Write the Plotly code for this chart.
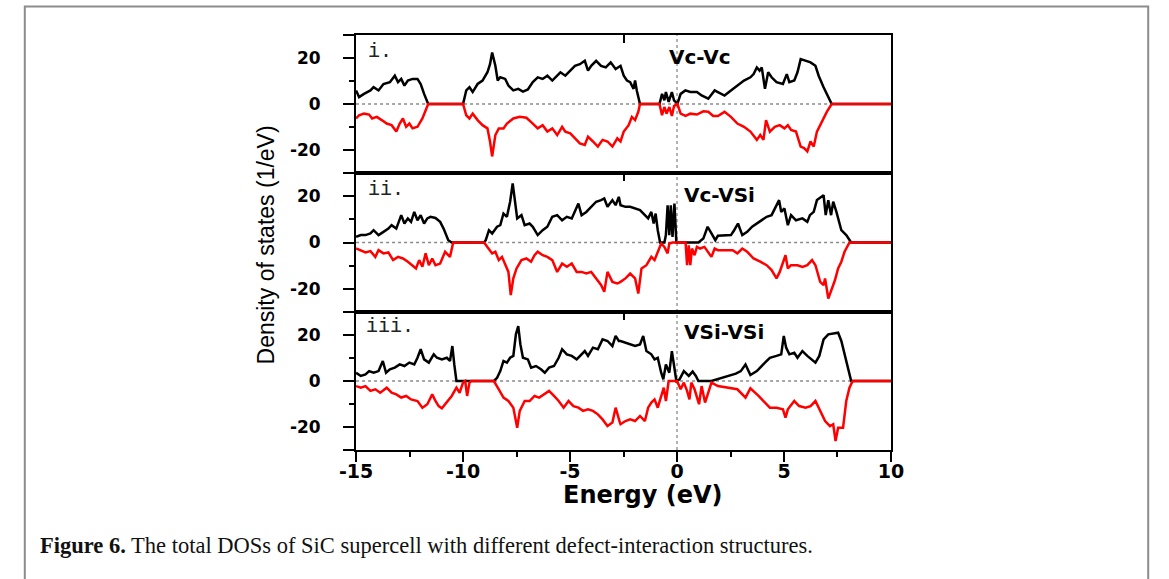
import plotly.graph_objects as go

W, H = 1169, 579

# ---------------- data (energy in eV, DOS in 1/eV) ----------------
# Panel i: Vc-Vc
e_vcvc_up = [-15.0, -14.86, -14.63, -14.33, -14.18, -13.95, -13.72, -13.42, -13.19, -13.04,
             -12.89, -12.74, -12.58, -12.36, -12.13, -11.98, -11.82, -11.63, -10.0, -9.85,
             -9.70, -9.55, -9.32, -9.09, -8.86, -8.74, -8.64, -8.49, -8.38, -8.26,
             -8.03, -7.88, -7.65, -7.42, -7.20, -6.97, -6.74, -6.51, -6.28, -6.06,
             -5.83, -5.60, -5.45, -5.22, -4.99, -4.77, -4.54, -4.31, -4.16, -4.01,
             -3.78, -3.55, -3.33, -3.10, -2.87,
             -2.64, -2.49, -2.34, -2.19, -2.03, -1.96, -1.88, -1.73, -0.82, -0.70,
             -0.59, -0.52, -0.39, -0.24, -0.14, 0.02, 0.17, 0.39, 0.62, 0.93,
             1.15, 1.46, 1.76, 1.91, 2.22, 2.52, 2.82, 3.13, 3.43, 3.58,
             3.73, 3.86, 3.96, 4.11, 4.26, 4.42, 4.65, 4.95, 5.13, 5.25,
             5.48, 5.63, 5.78, 6.01, 6.24, 6.47, 6.62, 6.85, 7.07, 7.23, 10.0]
d_vcvc_up = [5.9, 3.0, 4.4, 5.9, 7.3, 5.9, 8.7, 9.5, 12.3, 9.5,
             10.9, 8.0, 10.2, 10.9, 10.9, 8.7, 4.4, 0, 0, 5.9,
             7.3, 5.2, 8.7, 10.2, 13.8, 17.3, 22.4, 16.6, 10.2, 11.6,
             10.9, 8.0, 5.9, 6.6, 5.4, 6.3, 9.5, 11.6, 10.9, 12.3,
             10.2, 12.3, 13.8, 12.3, 14.5, 16.6, 17.3, 18.8, 14.5, 16.6,
             18.8, 16.6, 15.9, 18.1, 15.2,
             16.6, 12.3, 10.2, 9.5, 6.6, 10.2, 5.9, 0, 0, 4.4,
             1.6, 5.2, 0.9, 5.2, 1.6, 0.1, 4.4, 5.9, 5.2, 5.2,
             3.7, 2.3, 5.9, 5.2, 3.7, 5.9, 8.0, 10.2, 11.6, 13.0,
             15.9, 14.5, 15.9, 6.6, 13.8, 11.6, 9.5, 8.7, 13.0, 9.5,
             10.2, 13.8, 19.5, 18.8, 18.1, 16.6, 12.3, 7.3, 3.0, 0, 0]

e_vcvc_dn = [-15.0, -14.86, -14.63, -14.39, -14.25, -14.03, -13.80, -13.57, -13.34, -13.12,
             -12.96, -12.81, -12.66, -12.51, -12.36, -12.13, -11.90, -11.63, -10.0, -9.85,
             -9.70, -9.55, -9.32, -9.09, -8.86, -8.74, -8.64, -8.49, -8.33, -8.11,
             -7.95, -7.65, -7.35, -7.04, -6.74, -6.51, -6.28, -6.06, -5.83, -5.60,
             -5.37, -5.22, -4.99, -4.77, -4.54, -4.31, -4.16, -3.93, -3.70, -3.48,
             -3.25, -3.02, -2.79,
             -2.64, -2.49, -2.26, -2.11, -1.96, -1.81, -1.73, -0.82, -0.70, -0.59,
             -0.49, -0.36, -0.24, -0.14, 0.02, 0.17, 0.40, 0.62, 0.93, 1.23,
             1.46, 1.69, 1.91, 2.22, 2.52, 2.82, 3.13, 3.43, 3.73, 3.89,
             4.04, 4.16, 4.34, 4.57, 4.80, 5.02, 5.18, 5.33, 5.56, 5.78,
             5.94, 6.09, 6.24, 6.39, 6.54, 6.77, 7.00, 7.23, 10.0]
d_vcvc_dn = [-6.3, -4.9, -4.2, -4.6, -6.3, -5.6, -7.0, -8.5, -9.2, -12.0,
             -8.5, -6.3, -9.9, -8.5, -10.6, -9.9, -6.3, 0, 0, -4.9,
             -6.3, -4.2, -7.0, -9.2, -10.6, -16.3, -22.8, -13.5, -10.6, -10.6,
             -8.5, -6.3, -5.6, -6.0, -8.5, -10.6, -9.2, -12.0, -10.6, -13.5,
             -9.9, -12.0, -12.8, -14.9, -17.1, -17.8, -14.2, -16.3, -18.5, -15.6,
             -16.3, -18.5, -14.9,
             -16.3, -12.0, -9.2, -5.6, -7.0, -3.4, 0, 0, -4.9, -1.3,
             -4.2, -1.3, -5.2, -0.9, 0, -4.2, -5.2, -4.2, -4.6, -3.2,
             -3.4, -5.2, -5.2, -3.4, -5.6, -8.5, -9.9, -12.0, -15.6, -13.5,
             -15.6, -7.0, -12.0, -9.9, -9.2, -10.6, -9.2, -11.3, -12.0, -18.5,
             -19.2, -20.6, -16.3, -18.5, -12.0, -7.7, -3.4, 0, 0]

# Panel ii: Vc-VSi
e_vcvsi_up = [-15.0, -14.78, -14.56, -14.33, -14.18, -13.95, -13.72, -13.49, -13.34, -13.12,
              -12.89, -12.74, -12.58, -12.43, -12.28, -12.13, -11.98, -11.82, -11.67, -11.52,
              -11.29, -11.07, -10.91, -10.69, -10.53, -9.02, -8.94, -8.79, -8.64, -8.41,
              -8.26, -8.11, -7.95, -7.80, -7.68, -7.57, -7.47, -7.27, -7.12, -6.89,
              -6.74, -6.51, -6.28, -6.06, -5.83, -5.60, -5.37, -5.15, -4.92, -4.61,
              -4.46, -4.24, -4.01, -3.78, -3.55, -3.40, -3.25, -3.02, -2.87, -2.72,
              -2.64, -2.41, -2.19, -1.96, -1.73, -1.50, -1.35, -1.20, -1.09, -1.00,
              -0.90, -0.79, -0.59, -0.52, -0.44, -0.36, -0.29, -0.21, -0.12, -0.03,
              1.00, 1.23, 1.43, 1.61, 1.79, 1.91, 2.22, 2.52, 2.67, 2.85,
              3.05, 3.28, 3.51, 3.73, 3.96, 4.19, 4.42, 4.57, 4.77, 4.87,
              5.02, 5.18, 5.33, 5.56, 5.86, 6.09, 6.21, 6.39, 6.54, 6.85,
              6.95, 7.07, 7.20, 7.30, 7.45, 7.68, 7.91, 8.14, 10.0]
d_vcvsi_up = [2.4, 3.2, 3.2, 3.9, 5.3, 3.2, 4.6, 6.0, 7.5, 6.0,
              11.8, 8.2, 10.4, 8.9, 13.2, 9.6, 11.8, 8.2, 10.4, 11.1,
              10.6, 8.9, 6.0, 1.0, 0, 0, 1.0, 5.3, 3.9, 6.8,
              7.5, 12.5, 11.1, 17.6, 25.5, 17.6, 10.4, 11.8, 7.5, 8.2,
              6.8, 3.2, 5.3, 6.8, 11.1, 11.8, 9.6, 11.1, 10.4, 16.8,
              11.8, 13.2, 15.4, 17.6, 18.3, 19.0, 15.4, 18.3, 16.1, 19.7,
              16.1, 15.4, 15.4, 14.7, 14.0, 11.8, 10.4, 13.2, 8.2, 12.5,
              5.3, 0, 0, 3.2, 16.1, 3.2, 16.1, 2.4, 16.8, 0,
              0, 1.7, 6.8, 3.9, 1.0, 2.9, 2.9, 3.2, 5.3, 8.2,
              3.2, 4.6, 6.8, 8.2, 9.6, 11.1, 11.8, 14.7, 18.3, 13.2,
              14.7, 7.5, 11.8, 9.6, 10.4, 8.9, 11.8, 13.2, 18.3, 20.4,
              11.8, 18.3, 11.8, 17.6, 13.2, 5.3, 3.2, 0, 0]

e_vcvsi_dn = [-15.0, -14.78, -14.56, -14.33, -14.10, -13.95, -13.72, -13.49, -13.27, -13.04,
              -12.81, -12.58, -12.36, -12.20, -12.05, -11.90, -11.75, -11.60, -11.44, -11.29,
              -11.07, -10.84, -10.61, -10.46, -9.02, -8.86, -8.64, -8.49, -8.33, -8.18,
              -8.03, -7.88, -7.77, -7.65, -7.50, -7.27, -7.04, -6.82, -6.66, -6.51,
              -6.28, -6.06, -5.83, -5.60, -5.37, -5.15, -4.92, -4.69, -4.46, -4.24,
              -4.01, -3.78, -3.55, -3.40, -3.25, -3.02, -2.79,
              -2.64, -2.41, -2.19, -1.96, -1.81, -1.66, -1.43, -1.20, -1.05, -0.90,
              -0.74, -0.59, -0.44, -0.36, -0.21, 0.40, 0.47, 0.55, 0.62, 0.70,
              0.82, 0.93, 1.08, 1.28, 1.46, 1.61, 1.76, 1.91, 2.22, 2.60,
              2.82, 3.05, 3.28, 3.58, 3.89, 4.19, 4.42, 4.65, 4.80, 4.95,
              5.07, 5.18, 5.33, 5.63, 5.86, 6.09, 6.31, 6.47, 6.69, 6.85,
              6.92, 7.07, 7.23, 7.38, 7.53, 7.68, 7.83, 8.06, 10.0]
d_vcvsi_dn = [-2.6, -3.3, -4.3, -3.7, -6.2, -3.3, -4.7, -4.3, -7.6, -6.2,
              -6.9, -8.3, -9.8, -11.2, -7.6, -10.5, -4.7, -9.8, -6.9, -9.8,
              -9.1, -4.0, -6.2, 0, 0, -1.9, -4.7, -4.0, -7.6, -6.2,
              -9.8, -12.7, -22.7, -15.5, -11.2, -7.6, -6.9, -8.3, -5.5, -4.0,
              -5.5, -6.2, -7.6, -12.7, -9.1, -10.5, -9.1, -12.7, -12.7, -13.4,
              -12.7, -15.5, -18.3, -21.3, -12.7, -17.0, -17.7,
              -17.0, -15.5, -13.4, -15.5, -22.0, -11.2, -9.8, -6.2, -7.6, -4.0,
              -0.4, -1.9, -4.7, -0.4, 0, 0, -9.8, -1.2, -9.8, -2.6,
              -5.5, -1.9, -2.6, -1.9, -4.0, -6.2, -2.6, -3.3, -3.3, -3.3,
              -4.7, -2.6, -4.0, -6.9, -8.3, -9.8, -11.9, -15.5, -12.7, -8.3,
              -5.5, -11.2, -9.8, -9.8, -10.5, -9.8, -7.6, -9.8, -17.0, -18.4,
              -15.5, -24.2, -19.9, -16.3, -11.2, -8.3, -4.0, 0, 0]

# Panel iii: VSi-VSi
e_vsivsi_up = [-15.0, -14.78, -14.56, -14.39, -14.18, -13.95, -13.75, -13.60, -13.42, -13.19,
               -12.96, -12.74, -12.51, -12.28, -12.13, -11.98, -11.82, -11.60, -11.37, -11.22,
               -10.99, -10.76, -10.61, -10.50, -10.41, -10.31, -8.56, -8.41, -8.26, -8.11,
               -7.95, -7.80, -7.65, -7.53, -7.42, -7.32, -7.20, -6.97, -6.82, -6.59,
               -6.36, -6.18, -5.98, -5.75, -5.53, -5.37, -5.15, -4.92, -4.69, -4.54,
               -4.31, -4.16, -3.93, -3.70, -3.48, -3.25, -3.02, -2.87, -2.72,
               -2.64, -2.41, -2.19, -1.96, -1.73, -1.58, -1.43, -1.20, -1.05, -0.90,
               -0.74, -0.64, -0.52, -0.36, -0.24, -0.14, -0.03, 0.12, 0.32, 0.55,
               0.73, 0.88, 1.00, 1.61, 2.22, 2.75, 2.98, 3.20, 3.43, 3.73,
               4.11, 4.34, 4.65, 4.87, 4.99, 5.10, 5.25, 5.48, 5.63, 5.86,
               6.09, 6.31, 6.47, 6.65, 6.85, 7.07, 7.30, 7.53, 7.68, 7.83,
               7.98, 8.14, 10.0]
d_vsivsi_up = [3.6, 2.2, 2.9, 4.3, 3.6, 4.3, 8.7, 3.6, 5.1, 5.8,
               7.2, 6.5, 8.0, 7.2, 10.1, 13.8, 9.4, 8.0, 11.6, 10.1,
               9.4, 10.1, 8.7, 15.2, 7.2, 0, 0, 1.4, 4.3, 8.7,
               8.0, 10.1, 10.9, 20.3, 23.9, 15.9, 10.1, 9.4, 5.8, 6.5,
               5.1, 3.6, 5.8, 6.5, 10.1, 13.8, 11.6, 10.9, 9.4, 10.9,
               13.0, 10.9, 14.5, 13.8, 18.1, 17.4, 15.2, 19.6, 17.4,
               17.4, 16.7, 15.9, 15.2, 15.9, 19.6, 13.0, 11.6, 9.4, 10.1,
               3.6, 0.7, 7.2, 3.6, 13.0, 5.8, 0, 0.7, 4.3, 2.2,
               4.1, 2.2, 0, 0, 1.7, 3.2, 4.3, 7.2, 2.6, 4.3,
               8.0, 10.1, 10.9, 11.6, 19.6, 14.5, 11.6, 12.3, 10.1, 13.0,
               10.9, 9.4, 8.0, 10.9, 18.1, 20.3, 20.6, 21.0, 17.4, 11.6,
               5.8, 0, 0]

e_vsivsi_dn = [-15.0, -14.78, -14.56, -14.33, -14.10, -13.87, -13.57, -13.34, -13.12, -12.89,
               -12.66, -12.43, -12.13, -11.90, -11.67, -11.44, -11.29, -11.14, -10.99, -10.76,
               -10.53, -10.31, -10.16, -10.00, -9.90, -9.81, -9.70, -9.62, -8.56, -8.33,
               -8.11, -7.88, -7.65, -7.53, -7.47, -7.35, -7.12, -6.89, -6.66, -6.44,
               -6.21, -5.98, -5.75, -5.53, -5.30, -5.07, -4.84, -4.61, -4.39, -4.16,
               -3.93, -3.70, -3.48, -3.25, -3.02, -2.87, -2.67,
               -2.64, -2.41, -2.19, -1.96, -1.73, -1.50, -1.35, -1.20, -1.05, -0.90,
               -0.74, -0.62, -0.52, -0.39, 0.0, 0.17, 0.32, 0.47, 0.58, 0.67,
               0.82, 1.03, 1.15, 1.31, 1.46, 1.61, 1.91, 2.37, 2.82, 3.20,
               3.43, 3.81, 4.34, 4.65, 4.95, 5.07, 5.18, 5.48, 5.71, 6.01,
               6.24, 6.47, 6.69, 6.92, 7.15, 7.30, 7.41, 7.53, 7.76, 7.91,
               8.06, 8.21, 10.0]
d_vsivsi_dn = [-2.2, -2.9, -2.2, -4.3, -3.6, -5.1, -2.9, -5.1, -5.8, -7.2,
               -6.5, -8.0, -8.7, -11.6, -10.1, -5.8, -8.7, -10.9, -11.9, -9.4,
               -6.5, -2.9, -5.1, -0.7, 0, -6.5, -0.7, 0, 0, -3.6,
               -7.2, -8.7, -11.6, -17.4, -20.3, -13.0, -8.7, -8.7, -6.5, -7.2,
               -5.8, -4.3, -6.5, -8.7, -11.6, -8.7, -10.9, -11.6, -13.0, -12.3,
               -13.0, -14.5, -16.7, -19.6, -18.1, -11.6, -18.1,
               -18.8, -17.4, -16.7, -17.4, -15.2, -17.4, -11.6, -9.4, -8.0, -11.6,
               -7.2, -2.9, -8.7, 0, 0, -3.6, -0.7, -4.3, -8.0, -0.7,
               -3.6, -10.1, -2.2, -9.4, -5.1, -0.7, -2.2, -2.9, -3.6, -7.2,
               -3.2, -6.5, -11.6, -11.6, -12.3, -15.9, -12.3, -8.7, -10.9, -11.6,
               -10.9, -8.7, -13.0, -17.4, -19.6, -18.8, -26.1, -20.3, -20.3, -8.7,
               -2.9, 0, 0]

panel_titles = ["Vc-Vc", "Vc-VSi", "VSi-VSi"]
panel_tags = ["i.", "ii.", "iii."]
x_ticks = [-15, -10, -5, 0, 5, 10]
y_ticks = [-30, -20, 0, 20, 30]
y_ticktext = ["", "-20", "0", "20", ""]

series = [
    (e_vcvc_up, d_vcvc_up, e_vcvc_dn, d_vcvc_dn),
    (e_vcvsi_up, d_vcvsi_up, e_vcvsi_dn, d_vcvsi_dn),
    (e_vsivsi_up, d_vsivsi_up, e_vsivsi_dn, d_vsivsi_dn),
]
for s in series:
    assert len(s[0]) == len(s[1]), (len(s[0]), len(s[1]))
    assert len(s[2]) == len(s[3]), (len(s[2]), len(s[3]))

# ---------------- layout geometry (pixels -> paper) ----------------
def px(x):
    return x / W

def py(y):
    return 1 - y / H

X0, X1 = 348, 897
tops = [35, 173, 312]
bots = [173, 312, 450]

fig = go.Figure()
# curves live on overlay axes (x4/y4, x5/y5, x6/y6), which also carry the inner frame ticks
for i, (eu, du, ed, dd) in enumerate(series):
    xa = f"x{i+4}"
    ya = f"y{i+4}"
    fig.add_trace(go.Scatter(x=eu, y=du, mode="lines", xaxis=xa, yaxis=ya,
                             line=dict(color="black", width=2.5), hoverinfo="skip",
                             showlegend=False))
    fig.add_trace(go.Scatter(x=ed, y=dd, mode="lines", xaxis=xa, yaxis=ya,
                             line=dict(color="#ff0000", width=2.5), hoverinfo="skip",
                             showlegend=False))

tickfont = dict(family="DejaVu Sans", size=17, color="black", weight="bold")
layout = dict(
    width=W, height=H,
    margin=dict(l=0, r=0, t=0, b=0),
    paper_bgcolor="white", plot_bgcolor="white",
    showlegend=False,
)
for i in range(3):
    xkey = "xaxis" if i == 0 else f"xaxis{i+1}"
    ykey = "yaxis" if i == 0 else f"yaxis{i+1}"
    xa = "x" if i == 0 else f"x{i+1}"
    ya = "y" if i == 0 else f"y{i+1}"
    last = (i == 2)
    xax = dict(domain=[px(X0), px(X1)], anchor=ya, range=[-15, 10],
               showline=True, linecolor="black", linewidth=2, mirror=True,
               showgrid=False, zeroline=False, fixedrange=True)
    if last:
        xax.update(tickmode="array", tickvals=x_ticks, ticktext=[str(v) for v in x_ticks],
                   ticks="outside", ticklen=10, tickwidth=2, tickcolor="black",
                   ticklabelstandoff=-7,
                   tickfont=dict(family="DejaVu Sans", size=19, color="black", weight="bold"),
                   minor=dict(dtick=2.5, tick0=0, ticks="outside", ticklen=5,
                              tickwidth=2, tickcolor="black"))
    else:
        xax.update(ticks="", showticklabels=False)
    yax = dict(domain=[py(bots[i]), py(tops[i])], anchor=xa, range=[-30, 30],
               tickmode="array", tickvals=y_ticks, ticktext=y_ticktext,
               ticks="outside", ticklen=11, tickwidth=2, tickcolor="black",
               tickfont=tickfont, ticklabelstandoff=19,
               minor=dict(tickvals=[-10, 10], ticks="outside", ticklen=5,
                          tickwidth=2, tickcolor="black"),
               showline=True, linecolor="black", linewidth=2, mirror=True,
               showgrid=False, zeroline=False, fixedrange=True)
    layout[xkey] = xax
    layout[ykey] = yax
    # overlay axes: inner tick on the top frame and inner ticks on the right frame
    layout[f"xaxis{i+4}"] = dict(overlaying=xa, anchor=ya, side="top", range=[-15, 10],
                                 tickmode="array", tickvals=[-2.5], ticks="inside",
                                 ticklen=8, tickwidth=2, tickcolor="black",
                                 showticklabels=False, showline=False, showgrid=False,
                                 zeroline=False, fixedrange=True)
    layout[f"yaxis{i+4}"] = dict(overlaying=ya, anchor=xa, side="right", range=[-30, 30],
                                 tickmode="array", tickvals=[-30, 30], ticks="inside",
                                 ticklen=10, tickwidth=2, tickcolor="black",
                                 showticklabels=False, showline=False, showgrid=False,
                                 zeroline=False, fixedrange=True)

fig.update_layout(**layout)

shapes = []
for i in range(3):
    xa = "x" if i == 0 else f"x{i+1}"
    ya = "y" if i == 0 else f"y{i+1}"
    shapes.append(dict(type="line", xref=xa, yref=ya, x0=-15, x1=10, y0=0, y1=0,
                       line=dict(color="#8a8a8a", width=1.3, dash="dot"), layer="below"))
shapes.append(dict(type="line", xref="x3", yref="paper", x0=0, x1=0,
                   y0=py(bots[2]), y1=py(tops[0]),
                   line=dict(color="#8a8a8a", width=1.3, dash="dot"), layer="below"))
# outer frame of the figure panel
shapes.append(dict(type="rect", xref="paper", yref="paper",
                   x0=px(8), x1=px(1161), y0=-0.05, y1=py(6.5),
                   line=dict(color="#8c8c8c", width=2)))
fig.update_layout(shapes=shapes)

ann = []
title_pos = [(667, 57), (683, 195), (683, 332)]
tag_pos = [(358, 52), (358, 189), (356, 326)]
for i in range(3):
    ann.append(dict(text=panel_titles[i], x=px(title_pos[i][0]), y=py(title_pos[i][1]),
                    xref="paper", yref="paper", xanchor="left", yanchor="middle",
                    showarrow=False,
                    font=dict(family="DejaVu Sans", size=20, color="black", weight="bold")))
    ann.append(dict(text=panel_tags[i], x=px(tag_pos[i][0]), y=py(tag_pos[i][1]),
                    xref="paper", yref="paper", xanchor="left", yanchor="middle",
                    showarrow=False,
                    font=dict(family="Liberation Mono", size=20, color="#222222")))
ann.append(dict(text="Density of states (1/eV)", x=px(256), y=py(245), xref="paper",
                yref="paper", xanchor="center", yanchor="middle", textangle=-90,
                showarrow=False,
                font=dict(family="Liberation Sans", size=23, color="black")))
ann.append(dict(text="Energy (eV)", x=px(643), y=py(495), xref="paper", yref="paper",
                xanchor="center", yanchor="middle", showarrow=False,
                font=dict(family="DejaVu Sans", size=24, color="black", weight="bold")))
ann.append(dict(text="<b>Figure 6.</b> The total DOSs of SiC supercell with different defect-interaction structures.",
                x=px(22), y=py(545), xref="paper", yref="paper", xanchor="left",
                yanchor="middle", showarrow=False,
                font=dict(family="Liberation Serif", size=22.5, color="#111111")))
fig.update_layout(annotations=ann)

fig.write_html("out.html", config={"displayModeBar": False, "staticPlot": True})
